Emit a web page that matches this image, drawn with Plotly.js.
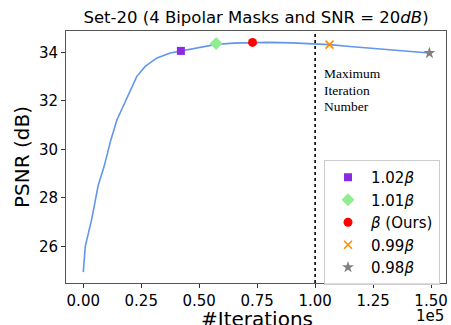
<!DOCTYPE html>
<html>
<head>
<meta charset="utf-8">
<script src="https://cdn.plot.ly/plotly-3.0.1.min.js"></script>
<style>html,body{margin:0;padding:0;background:#fff;}#chart{width:451px;height:325px;}</style>
</head>
<body>
<div id="chart"></div>
<script>
// PSNR curve vs iterations
const iterations = [0, 860, 3600, 6400, 9000, 11900, 14500, 17500, 20300, 23100, 26700, 31800, 37500, 42100, 50000, 57300, 65000, 73000, 80000, 90000, 100000, 106200, 115000, 125000, 135000, 149300];
const psnr = [24.94, 26.0, 27.1, 28.5, 29.3, 30.39, 31.21, 31.85, 32.39, 33.01, 33.42, 33.77, 33.97, 34.05, 34.2, 34.33, 34.38, 34.41, 34.41, 34.39, 34.35, 34.32, 34.24, 34.16, 34.08, 33.97];

// chosen stopping points for different beta scalings
const betaLabels = ["1.02<i>β</i>", "1.01<i>β</i>", "<i>β</i> (Ours)", "0.99<i>β</i>", "0.98<i>β</i>"];
const betaIters = [42100, 57300, 73000, 106200, 149300];
const betaPsnr = [34.06, 34.36, 34.41, 34.32, 33.97];
const betaColors = ["#8A2BE2", "#90EE90", "#FF0000", "#FF8C00", "#808080"];
const betaSymbols = ["square", "diamond", "circle", "x-thin-open", "star"];
const betaSizes = [8, 10, 9, 8, 9];

const maxIter = 100000;
const maxIterLines = ["Maximum", "Iteration", "Number"];
const xTitle = "#Iterations";
const xTickVals = [0, 25000, 50000, 75000, 100000, 125000, 150000];
const xTickText = ["0.00", "0.25", "0.50", "0.75", "1.00", "1.25", "1.50"];
const yTickVals = [26, 28, 30, 32, 34];

const traces = [{
  x: iterations, y: psnr, mode: "lines", type: "scatter",
  line: {color: "#6495ED", width: 1.6}, showlegend: false, hoverinfo: "skip"
}];
for (let i = 0; i < betaLabels.length; i++) {
  const sym = betaSymbols[i];
  const mk = {symbol: sym, size: betaSizes[i], color: betaColors[i]};
  if (sym === "x-thin-open") mk.line = {color: betaColors[i], width: 1.6};
  else mk.line = {width: 0};
  traces.push({
    x: [betaIters[i]], y: [betaPsnr[i]], mode: "markers", type: "scatter",
    name: betaLabels[i], marker: mk
  });
}

const plotH = 325 - 31 - 42;
const annotations = maxIterLines.map((t, i) => ({
  text: t, xref: "paper", yref: "paper", x: (322 - 66) / 380, y: (283 - (73.5 + 16.6 * i)) / plotH,
  xanchor: "left", yanchor: "middle", align: "left", showarrow: false,
  font: {family: "Liberation Serif", size: 13.5, color: "#000"}
}));
annotations.push({text: "1e5", xref: "paper", yref: "paper", x: 1, y: (283 - 316) / plotH,
  xanchor: "right", yanchor: "middle", showarrow: false, font: {size: 15}});
annotations.push({text: xTitle, xref: "paper", yref: "paper", x: (256.5 - 66) / 380, y: (283 - 318.5) / plotH,
  xanchor: "center", yanchor: "middle", showarrow: false, font: {size: 20}});

const layout = {
  width: 451, height: 325,
  margin: {l: 66, r: 5, t: 31, b: 42},
  paper_bgcolor: "#fff", plot_bgcolor: "#fff",
  font: {family: "DejaVu Sans", color: "#000", size: 15},
  title: {text: "Set-20 (4 Bipolar Masks and SNR = 20<i>dB</i>)", font: {size: 16.5, family: "DejaVu Sans"},
          x: 0.5, xref: "paper", y: 1 - 17.5/325, yref: "container", yanchor: "middle"},
  xaxis: {
    range: [-7450, 156450], tickvals: xTickVals, ticktext: xTickText,
    ticks: "outside", ticklen: 4, tickcolor: "#333", showgrid: false, zeroline: false,
    showline: true, linecolor: "#555", linewidth: 1, mirror: true,
    tickfont: {size: 15}
  },
  yaxis: {
    range: [24.49, 34.88], tickvals: yTickVals,
    ticks: "outside", ticklen: 4, tickcolor: "#333", showgrid: false, zeroline: false,
    showline: true, linecolor: "#555", linewidth: 1, mirror: true,
    tickfont: {size: 15}, title: {text: "PSNR (dB)", font: {size: 20}, standoff: 3}
  },
  shapes: [{
    type: "line", xref: "x", yref: "paper", x0: maxIter, x1: maxIter, y0: 0, y1: 1,
    line: {color: "#000", width: 1.6, dash: "dot"}
  }],
  annotations: annotations,
  legend: {
    x: (324 - 66) / 380, y: (283 - 160) / plotH, xanchor: "left", yanchor: "top",
    bgcolor: "rgba(255,255,255,0.8)", bordercolor: "#ccc", borderwidth: 1,
    font: {size: 15}, tracegroupgap: 0, itemwidth: 36
  }
};

Plotly.newPlot("chart", traces, layout, {displayModeBar: false, staticPlot: true});
</script>
</body>
</html>
